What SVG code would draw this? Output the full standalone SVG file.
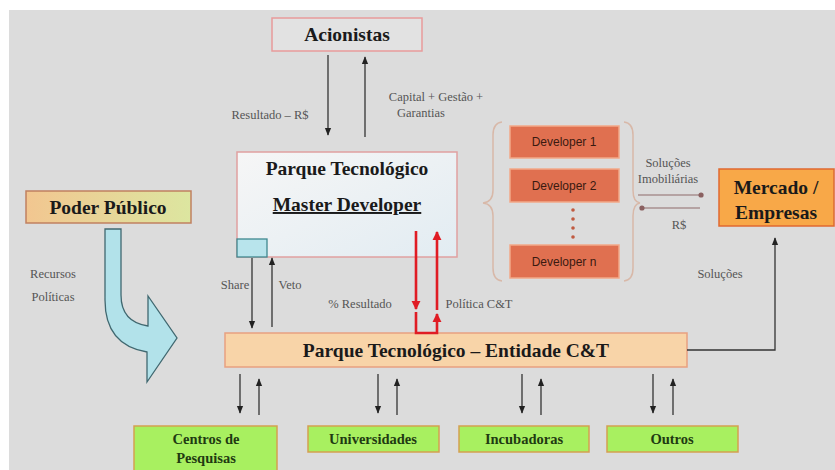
<svg xmlns="http://www.w3.org/2000/svg" width="835" height="470" viewBox="0 0 835 470">
<defs>
<style>
.big{font-family:"Liberation Serif","Times New Roman",serif;font-weight:bold;font-size:19.5px;fill:#1a1a1a;text-anchor:middle}
.grn{font-family:"Liberation Serif","Times New Roman",serif;font-weight:bold;font-size:14.5px;fill:#1f3a12;text-anchor:middle}
.sm{font-family:"Liberation Serif","Times New Roman",serif;font-size:12.5px;fill:#555;text-anchor:middle}
.dev{font-family:"Liberation Sans",Arial,sans-serif;font-size:12px;fill:#3a1a10;text-anchor:middle}
.ln{stroke:#333;stroke-width:1.3;fill:none}
.red{stroke:#e01c24;stroke-width:2.6;fill:none}
.pk{stroke:#a89090;stroke-width:1.3;fill:none}
.gb{fill:#a8f060;stroke:#d4a050;stroke-width:1.5}
.dv{fill:#e07050;stroke:#f2a888;stroke-width:1.5}
</style>
<marker id="ah" viewBox="0 0 10 10" refX="9" refY="5" markerWidth="6" markerHeight="6" orient="auto-start-reverse"><path d="M0,1 L10,5 L0,9 Z" fill="#222"/></marker>
<marker id="ahr" viewBox="0 0 10 10" refX="9" refY="5" markerWidth="3.5" markerHeight="3.5" orient="auto-start-reverse"><path d="M0,0 L10,5 L0,10 Z" fill="#e01c24"/></marker>
<marker id="ahp" viewBox="0 0 10 10" refX="8" refY="5" markerWidth="5" markerHeight="5" orient="auto"><circle cx="5" cy="5" r="4" fill="#8a6060"/></marker>
<linearGradient id="gmd" x1="0" y1="0" x2="1" y2="1"><stop offset="0" stop-color="#f6f6f6"/><stop offset="1" stop-color="#e2ecf2"/></linearGradient>
<linearGradient id="gpp" x1="0" y1="0" x2="1" y2="0"><stop offset="0" stop-color="#f2c690"/><stop offset="1" stop-color="#dce6a0"/></linearGradient>
</defs>
<rect x="0" y="0" width="835" height="470" fill="#ffffff"/>
<rect x="9" y="10" width="826" height="460" fill="#dcdcdc"/>

<g id="acionistas">
<rect x="272" y="18" width="150" height="33" fill="#e2e2e2" stroke="#e89a9a" stroke-width="1.5"/>
<text class="big" x="347" y="41">Acionistas</text>
</g>

<g id="master-developer">
<rect x="237" y="152" width="220" height="105" fill="url(#gmd)" stroke="#e0a0a0" stroke-width="1.5"/>
<text class="big" x="347" y="175">Parque Tecnológico</text>
<text class="big" x="347" y="211" text-decoration="underline">Master Developer</text>
<rect x="237" y="239" width="30" height="18" fill="#b8e4ec" stroke="#3f8890" stroke-width="1.3"/>
</g>

<g id="poder-publico">
<rect x="26" y="191" width="165" height="32" fill="url(#gpp)" stroke="#c08060" stroke-width="1.5"/>
<text class="big" x="108" y="214">Poder Público</text>
</g>

<g id="developers">
<path d="M502,122 Q493,123 493,135 L493,190 Q493,202 483,203 Q493,204 493,216 L493,268 Q493,280 502,281" fill="none" stroke="#d8b8a8" stroke-width="1.5"/>
<path d="M624,122 Q633,123 633,135 L633,190 Q633,202 640,203 Q633,204 633,216 L633,268 Q633,280 624,281" fill="none" stroke="#d8b8a8" stroke-width="1.5"/>
<rect class="dv" x="510" y="126" width="109" height="32"/>
<text class="dev" x="564" y="146">Developer 1</text>
<rect class="dv" x="510" y="169" width="109" height="33"/>
<text class="dev" x="564" y="190">Developer 2</text>
<g fill="#c05a40"><circle cx="573" cy="210" r="1.8"/><circle cx="573" cy="219" r="1.8"/><circle cx="573" cy="228" r="1.8"/><circle cx="573" cy="237" r="1.8"/></g>
<rect class="dv" x="510" y="245" width="109" height="33"/>
<text class="dev" x="564" y="266">Developer n</text>
</g>

<g id="mercado">
<rect x="719" y="169" width="115" height="57" fill="#f8a848" stroke="#e06830" stroke-width="1.5"/>
<text class="big" x="776" y="194">Mercado /</text>
<text class="big" x="776" y="219">Empresas</text>
</g>

<g id="entidade">
<rect x="225" y="333" width="462" height="34" fill="#f8d4a8" stroke="#e8a080" stroke-width="1.5"/>
<text class="big" x="456" y="357">Parque Tecnológico – Entidade C&amp;T</text>
</g>

<g id="centros">
<rect class="gb" x="134" y="426" width="143" height="48"/>
<text class="grn" x="206" y="444">Centros de</text>
<text class="grn" x="206" y="463">Pesquisas</text>
</g>
<g id="universidades">
<rect class="gb" x="308" y="426" width="131" height="26"/>
<text class="grn" x="373" y="444">Universidades</text>
</g>
<g id="incubadoras">
<rect class="gb" x="459" y="426" width="130" height="26"/>
<text class="grn" x="524" y="444">Incubadoras</text>
</g>
<g id="outros">
<rect class="gb" x="607" y="426" width="131" height="26"/>
<text class="grn" x="672" y="444">Outros</text>
</g>

<g id="connectors">
<path d="M105,229 L121,229 L121,295 Q121,322 148,326 L148,296 L177,338 L147,382 L147,352 Q105,345 105,300 Z" fill="#b2e2ea" stroke="#406870" stroke-width="1.3"/>
<line class="ln" x1="328" y1="55" x2="328" y2="135" marker-end="url(#ah)"/>
<line class="ln" x1="365" y1="137" x2="365" y2="57" marker-end="url(#ah)"/>
<line class="ln" x1="252" y1="258" x2="252" y2="328" marker-end="url(#ah)"/>
<line class="ln" x1="272" y1="327" x2="272" y2="258" marker-end="url(#ah)"/>
<line class="red" x1="416" y1="231" x2="416" y2="309" marker-end="url(#ahr)"/>
<path class="red" d="M416,312 L416,333 L437,333 L437,314" marker-end="url(#ahr)"/>
<line class="red" x1="437" y1="310" x2="437" y2="232" marker-end="url(#ahr)"/>
<line class="pk" x1="638" y1="195" x2="703" y2="195" marker-end="url(#ahp)"/>
<line class="pk" x1="700" y1="208" x2="640" y2="208" marker-end="url(#ahp)"/>
<polyline class="ln" points="687,350 775,350 775,238" marker-end="url(#ah)"/>
<line class="ln" x1="240" y1="374" x2="240" y2="413" marker-end="url(#ah)"/>
<line class="ln" x1="259" y1="415" x2="259" y2="379" marker-end="url(#ah)"/>
<line class="ln" x1="378" y1="374" x2="378" y2="413" marker-end="url(#ah)"/>
<line class="ln" x1="397" y1="415" x2="397" y2="379" marker-end="url(#ah)"/>
<line class="ln" x1="522" y1="374" x2="522" y2="413" marker-end="url(#ah)"/>
<line class="ln" x1="541" y1="415" x2="541" y2="379" marker-end="url(#ah)"/>
<line class="ln" x1="653" y1="374" x2="653" y2="413" marker-end="url(#ah)"/>
<line class="ln" x1="673" y1="415" x2="673" y2="379" marker-end="url(#ah)"/>
</g>

<g id="labels">
<text class="sm" x="270" y="119">Resultado – R$</text>
<text class="sm" x="436" y="101">Capital + Gestão +</text>
<text class="sm" x="421" y="117">Garantias</text>
<text class="sm" x="53" y="278">Recursos</text>
<text class="sm" x="53" y="301">Políticas</text>
<text class="sm" x="235" y="289">Share</text>
<text class="sm" x="290" y="289">Veto</text>
<text class="sm" x="360" y="308">% Resultado</text>
<text class="sm" x="479" y="308">Política C&amp;T</text>
<text class="sm" x="668" y="167">Soluções</text>
<text class="sm" x="668" y="183">Imobiliárias</text>
<text class="sm" x="679" y="229">R$</text>
<text class="sm" x="720" y="278">Soluções</text>
</g>
</svg>
